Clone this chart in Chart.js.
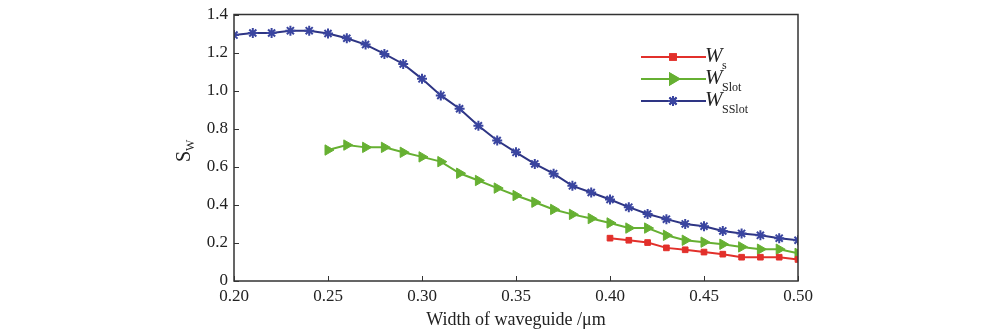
<!DOCTYPE html>
<html>
<head>
<meta charset="utf-8">
<script src="https://cdn.jsdelivr.net/npm/chart.js@4"></script>
<style>
  html, body { margin: 0; padding: 0; background: #fff; }
  #wrap { width: 1000px; height: 333px; }
</style>
</head>
<body>
<div id="wrap"><canvas id="c" width="1000" height="333"></canvas></div>
<script>
// data
const widthsSSlot = [0.20, 0.21, 0.22, 0.23, 0.24, 0.25, 0.26, 0.27, 0.28, 0.29, 0.30, 0.31, 0.32, 0.33, 0.34, 0.35,
  0.36, 0.37, 0.38, 0.39, 0.40, 0.41, 0.42, 0.43, 0.44, 0.45, 0.46, 0.47, 0.48, 0.49, 0.50];
const valuesSSlot = [1.292, 1.303, 1.303, 1.315, 1.315, 1.30, 1.275, 1.242, 1.193, 1.14, 1.062, 0.975, 0.905, 0.815, 0.738, 0.676,
  0.615, 0.564, 0.50, 0.465, 0.428, 0.388, 0.352, 0.325, 0.30, 0.288, 0.263, 0.25, 0.24, 0.225, 0.214];

const widthsSlot = [0.25, 0.26, 0.27, 0.28, 0.29, 0.30, 0.31, 0.32, 0.33, 0.34, 0.35, 0.36, 0.37, 0.38, 0.39,
  0.40, 0.41, 0.42, 0.43, 0.44, 0.45, 0.46, 0.47, 0.48, 0.49, 0.50];
const valuesSlot = [0.688, 0.714, 0.702, 0.702, 0.676, 0.652, 0.627, 0.566, 0.528, 0.488, 0.449, 0.414, 0.376, 0.35, 0.328,
  0.305, 0.278, 0.278, 0.24, 0.214, 0.204, 0.193, 0.179, 0.167, 0.167, 0.145];

const widthsS = [0.40, 0.41, 0.42, 0.43, 0.44, 0.45, 0.46, 0.47, 0.48, 0.49, 0.50];
const valuesS = [0.225, 0.214, 0.202, 0.174, 0.164, 0.152, 0.141, 0.125, 0.125, 0.125, 0.113];

const xTicks = [0.20, 0.25, 0.30, 0.35, 0.40, 0.45, 0.50];
const yTicks = [0, 0.2, 0.4, 0.6, 0.8, 1.0, 1.2, 1.4];

const seriesNames = [['W', 's'], ['W', 'Slot'], ['W', 'SSlot']];

const serif = '"Liberation Serif", "DejaVu Serif", serif';
const inkColor = '#222';

function pts(xs, ys) {
  return xs.map((x, i) => ({ x: x, y: ys[i] }));
}

// inward ticks, box frame, legend with subscripts, y title
const decorPlugin = {
  id: 'decor',
  afterDraw(chart) {
    const ctx = chart.ctx;
    const a = chart.chartArea;
    const xs = chart.scales.x;
    const ys = chart.scales.y;
    ctx.save();
    ctx.strokeStyle = '#333';
    ctx.lineWidth = 1.5;
    ctx.strokeRect(a.left, a.top, a.right - a.left, a.bottom - a.top);
    ctx.lineWidth = 1;
    xTicks.forEach((v) => {
      const px = Math.round(xs.getPixelForValue(v)) + 0.5;
      ctx.beginPath();
      ctx.moveTo(px, a.bottom);
      ctx.lineTo(px, a.bottom - 5);
      ctx.stroke();
    });
    yTicks.forEach((v) => {
      const py = Math.round(ys.getPixelForValue(v)) + 0.5;
      ctx.beginPath();
      ctx.moveTo(a.left, py);
      ctx.lineTo(a.left + 5, py);
      ctx.stroke();
    });

    // y axis title S_W
    ctx.translate(190, 152);
    ctx.rotate(-Math.PI / 2);
    ctx.fillStyle = inkColor;
    ctx.textBaseline = 'alphabetic';
    ctx.textAlign = 'left';
    ctx.font = '20px ' + serif;
    ctx.fillText('S', -10, 0);
    ctx.font = '12px ' + serif;
    ctx.fillText('W', 1, 4);
    ctx.restore();

    // legend
    ctx.save();
    const rows = [57, 79, 101];
    chart.data.datasets.forEach((ds, i) => {
      const y = rows[i];
      ctx.strokeStyle = ds.borderColor;
      ctx.lineWidth = 2;
      ctx.beginPath();
      ctx.moveTo(641, y);
      ctx.lineTo(706, y);
      ctx.stroke();
      Chart.helpers.drawPoint(ctx, {
        pointStyle: ds.pointStyle,
        radius: ds.pointRadius,
        rotation: ds.pointRotation || 0,
        borderWidth: ds.pointBorderWidth
      }, 673, y);
      ctx.fillStyle = ds.pointBackgroundColor;
      ctx.strokeStyle = ds.pointBorderColor;
      ctx.fill();
      ctx.stroke();
      ctx.fillStyle = inkColor;
      ctx.font = 'italic 21px ' + serif;
      ctx.textAlign = 'left';
      ctx.textBaseline = 'alphabetic';
      ctx.fillText(seriesNames[i][0], 705, y + 5);
      ctx.font = '12px ' + serif;
      ctx.fillText(seriesNames[i][1], 722, y + 12);
    });
    ctx.restore();
  }
};

new Chart(document.getElementById('c'), {
  type: 'scatter',
  data: {
    datasets: [
      {
        label: 'Ws',
        data: pts(widthsS, valuesS),
        showLine: true,
        borderColor: '#e2302b',
        backgroundColor: '#e2302b',
        pointBackgroundColor: '#e2302b',
        pointBorderColor: '#e2302b',
        pointStyle: 'rect',
        pointRadius: 4,
        pointBorderWidth: 1,
        borderWidth: 2,
        tension: 0
      },
      {
        label: 'WSlot',
        data: pts(widthsSlot, valuesSlot),
        showLine: true,
        borderColor: '#66b032',
        backgroundColor: '#66b032',
        pointBackgroundColor: '#66b032',
        pointBorderColor: '#66b032',
        pointStyle: 'triangle',
        pointRotation: 90,
        pointRadius: 6,
        pointBorderWidth: 1,
        borderWidth: 2,
        tension: 0
      },
      {
        label: 'WSSlot',
        data: pts(widthsSSlot, valuesSSlot),
        showLine: true,
        borderColor: '#2e3584',
        backgroundColor: '#2e3584',
        pointBackgroundColor: '#2e3584',
        pointBorderColor: '#3a45a0',
        pointStyle: 'star',
        pointRadius: 5,
        pointBorderWidth: 2,
        borderWidth: 2,
        tension: 0
      }
    ]
  },
  options: {
    responsive: false,
    animation: false,
    layout: { padding: { left: 0, right: 202, top: 12, bottom: 0 } },
    plugins: {
      legend: { display: false },
      tooltip: { enabled: false }
    },
    scales: {
      x: {
        type: 'linear',
        min: 0.2,
        max: 0.5,
        afterFit: (s) => { s.height = 52; },
        afterBuildTicks: (s) => { s.ticks = xTicks.map((v) => ({ value: v })); },
        grid: { display: false, drawTicks: false },
        border: { display: false },
        ticks: {
          color: inkColor,
          padding: 5,
          maxRotation: 0,
          font: { family: serif, size: 17 },
          callback: (v) => v.toFixed(2)
        },
        title: {
          display: true,
          text: 'Width of waveguide /μm',
          color: inkColor,
          padding: { top: 0, bottom: 2 },
          font: { family: serif, size: 18 }
        }
      },
      y: {
        min: 0,
        max: 1.4,
        afterFit: (s) => { s.width = 234; },
        afterBuildTicks: (s) => { s.ticks = yTicks.map((v) => ({ value: v })); },
        grid: { display: false, drawTicks: false },
        border: { display: false },
        ticks: {
          color: inkColor,
          padding: 6,
          font: { family: serif, size: 17, lineHeight: 1 },
          callback: (v) => (v === 0 ? '0' : v.toFixed(1))
        }
      }
    }
  },
  plugins: [decorPlugin]
});
</script>
</body>
</html>
